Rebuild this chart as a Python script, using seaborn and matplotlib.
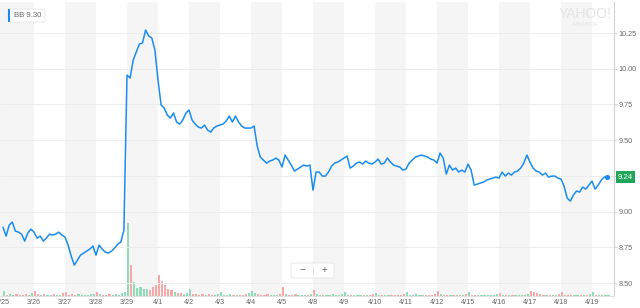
import numpy as np
import pandas as pd
import matplotlib
matplotlib.use("Agg")
import matplotlib.pyplot as plt
import matplotlib.transforms as mtransforms
from matplotlib.patches import FancyBboxPatch, Rectangle
import seaborn as sns

# ---------------- data ----------------
day_labels = ["3/25", "3/26", "3/27", "3/28", "3/29", "4/1", "4/2", "4/3", "4/4", "4/5",
              "4/8", "4/9", "4/10", "4/11", "4/12", "4/15", "4/16", "4/17", "4/18", "4/19"]

p_0325 = [8.892, 8.829, 8.906, 8.927, 8.864, 8.857, 8.843, 8.794, 8.850, 8.878]
p_0326 = [8.857, 8.815, 8.829, 8.794, 8.815, 8.843, 8.836, 8.843, 8.857, 8.836]
p_0327 = [8.822, 8.766, 8.689, 8.626, 8.661, 8.696, 8.710, 8.724, 8.738, 8.759]
p_0328 = [8.696, 8.766, 8.738, 8.717, 8.710, 8.724, 8.745, 8.773, 8.787, 8.870]
p_0329 = [9.956, 9.935, 10.061, 10.117, 10.173, 10.180, 10.271, 10.229, 10.215, 10.131]
p_0401 = [9.921, 9.746, 9.725, 9.676, 9.655, 9.690, 9.627, 9.613, 9.641, 9.690]
p_0402 = [9.711, 9.641, 9.613, 9.592, 9.585, 9.606, 9.571, 9.557, 9.585, 9.599]
p_0403 = [9.606, 9.613, 9.634, 9.669, 9.627, 9.669, 9.627, 9.599, 9.585, 9.585]
p_0404 = [9.585, 9.599, 9.459, 9.382, 9.361, 9.340, 9.354, 9.361, 9.375, 9.361]
p_0405 = [9.312, 9.396, 9.361, 9.326, 9.284, 9.298, 9.312, 9.326, 9.319, 9.326]
p_0408 = [9.151, 9.277, 9.277, 9.249, 9.249, 9.277, 9.319, 9.340, 9.347, 9.361]
p_0409 = [9.375, 9.389, 9.305, 9.319, 9.340, 9.347, 9.333, 9.354, 9.340, 9.333]
p_0410 = [9.347, 9.368, 9.333, 9.340, 9.375, 9.347, 9.326, 9.319, 9.312, 9.291]
p_0411 = [9.298, 9.340, 9.361, 9.382, 9.389, 9.396, 9.389, 9.382, 9.368, 9.361]
p_0412 = [9.340, 9.410, 9.375, 9.263, 9.326, 9.291, 9.305, 9.277, 9.291, 9.277]
p_0415 = [9.333, 9.291, 9.186, 9.193, 9.200, 9.207, 9.221, 9.228, 9.235, 9.242]
p_0416 = [9.235, 9.277, 9.249, 9.270, 9.256, 9.277, 9.284, 9.305, 9.340, 9.396]
p_0417 = [9.347, 9.305, 9.284, 9.277, 9.256, 9.270, 9.242, 9.249, 9.249, 9.235]
p_0418 = [9.228, 9.179, 9.095, 9.074, 9.116, 9.144, 9.137, 9.172, 9.158, 9.186]
p_0419 = [9.214, 9.158, 9.186, 9.221, 9.242, 9.242]

# volume (millions of shares) per interval
v_0325 = [1.3, 0.4, 0.6, 0.3, 0.5, 0.3, 0.4, 0.6, 0.3, 0.8]
v_0326 = [1.4, 0.5, 0.3, 0.6, 0.4, 0.3, 0.5, 0.4, 0.3, 0.7]
v_0327 = [1.2, 0.4, 0.5, 0.3, 0.6, 0.4, 0.3, 0.4, 0.5, 0.6]
v_0328 = [1.2, 0.6, 0.3, 0.4, 0.5, 0.3, 0.6, 0.4, 0.7, 1.0]
v_0329 = [20.0, 8.5, 3.8, 2.2, 2.4, 1.8, 2.0, 1.5, 2.5, 3.0]
v_0401 = [5.8, 4.2, 3.0, 2.0, 1.5, 1.0, 0.8, 0.7, 0.6, 0.9]
v_0402 = [1.9, 0.6, 0.5, 0.4, 0.6, 0.3, 0.5, 0.4, 0.3, 0.6]
v_0403 = [1.2, 0.4, 0.3, 0.5, 0.4, 0.3, 0.4, 0.3, 0.5, 0.7]
v_0404 = [1.4, 0.8, 0.5, 0.4, 0.3, 0.5, 0.4, 0.3, 0.4, 0.6]
v_0405 = [2.5, 0.6, 0.4, 0.3, 0.5, 0.3, 0.4, 0.3, 0.4, 0.6]
v_0408 = [1.7, 0.5, 0.4, 0.3, 0.4, 0.3, 0.5, 0.3, 0.4, 0.6]
v_0409 = [1.2, 0.4, 0.3, 0.3, 0.4, 0.3, 0.3, 0.4, 0.3, 0.5]
v_0410 = [0.9, 0.3, 0.4, 0.3, 0.3, 0.4, 0.3, 0.3, 0.4, 0.5]
v_0411 = [1.2, 0.4, 0.3, 0.5, 0.3, 0.3, 0.4, 0.3, 0.3, 0.6]
v_0412 = [1.4, 0.6, 0.4, 0.3, 0.4, 0.3, 0.3, 0.4, 0.3, 0.5]
v_0415 = [1.2, 0.4, 0.3, 0.3, 0.4, 0.3, 0.3, 0.3, 0.4, 0.5]
v_0416 = [0.9, 0.3, 0.3, 0.4, 0.3, 0.3, 0.3, 0.4, 0.3, 0.5]
v_0417 = [1.4, 1.0, 0.7, 0.5, 0.4, 0.3, 0.3, 0.4, 0.3, 0.6]
v_0418 = [1.0, 0.4, 0.3, 0.3, 0.4, 0.3, 0.3, 0.3, 0.4, 0.6]
v_0419 = [1.0, 0.4, 0.3, 0.3, 0.3, 0.4]

ticker_label = "BB 9.30"
price_ticks = [8.50, 8.75, 9.00, 9.25, 9.50, 9.75, 10.00, 10.25]

prices_by_day = [p_0325, p_0326, p_0327, p_0328, p_0329, p_0401, p_0402, p_0403, p_0404,
                 p_0405, p_0408, p_0409, p_0410, p_0411, p_0412, p_0415, p_0416, p_0417,
                 p_0418, p_0419]
vols_by_day = [v_0325, v_0326, v_0327, v_0328, v_0329, v_0401, v_0402, v_0403, v_0404,
               v_0405, v_0408, v_0409, v_0410, v_0411, v_0412, v_0415, v_0416, v_0417,
               v_0418, v_0419]

rows = []
for k, (pp, vv) in enumerate(zip(prices_by_day, vols_by_day)):
    for i, (p, v) in enumerate(zip(pp, vv)):
        rows.append({"t": k + i / 10.0, "price": p, "vol": v})
df = pd.DataFrame(rows)
df["up"] = df["price"].diff().fillna(0) >= 0

# ---------------- style ----------------
sns.set_style("white")
plt.rcParams["font.family"] = ["Liberation Sans", "DejaVu Sans"]

BLUE = "#1a8cf0"
GREY_TXT = "#666666"

fig = plt.figure(figsize=(6.4, 3.08), dpi=100)
rect = [0.0, 12 / 308, 614 / 640, 294 / 308]
ax_v = fig.add_axes(rect)
ax = fig.add_axes(rect, sharex=ax_v)
ax.patch.set_visible(False)

x_lo, x_hi = -0.097, 19.71
ax_v.set_xlim(x_lo, x_hi)

# alternating day bands
for k in range(len(day_labels)):
    if k % 2 == 0:
        left = k if k > 0 else x_lo - 1
        ax_v.axvspan(left, k + 1, color="#f5f5f5", lw=0, zorder=0)

# volume bars
bar_colors = np.where(df["up"], "#8fdcb8", "#f7a9a9")
ax_v.bar(df["t"], df["vol"], width=0.07, color=bar_colors, align="edge", lw=0, zorder=1)
ax_v.set_ylim(0, 80)
ax_v.set_yticks([])
for s in ax_v.spines.values():
    s.set_visible(False)
ax_v.tick_params(axis="x", length=0, labelbottom=False)

# price line
sns.lineplot(data=df, x="t", y="price", ax=ax, color=BLUE, linewidth=1.1,
             sort=False, estimator=None, zorder=3)
last_t = df["t"].iloc[-1]
last_p = df["price"].iloc[-1]
ax.scatter([last_t], [last_p], s=14, color=BLUE, zorder=4, lw=0)

ax.set_ylim(8.41, 10.467)
ax.set_xlim(x_lo, x_hi)
ax.set_yticks(price_ticks)
ax.set_yticklabels([f"{v:.2f}" for v in price_ticks])
ax.yaxis.tick_right()
ax.tick_params(axis="y", length=2, width=0.6, color="#cccccc", pad=1.5,
               labelsize=5.2, labelcolor=GREY_TXT)
ax.set_xticks(range(len(day_labels)))
ax.set_xticklabels(day_labels)
ax.tick_params(axis="x", length=0, pad=2.5, labelsize=5.2, labelcolor=GREY_TXT)
ax.grid(axis="y", color="#ececec", lw=0.7, zorder=1)
ax.grid(axis="x", visible=False)
ax.set_xlabel("")
ax.set_ylabel("")
ax.spines["top"].set_visible(False)
ax.spines["left"].set_visible(False)
ax.spines["right"].set_color("#d0d0d0")
ax.spines["right"].set_linewidth(0.8)
ax.spines["bottom"].set_color("#e0e0e0")
ax.spines["bottom"].set_linewidth(0.7)

# last-price flag
trans = mtransforms.blended_transform_factory(ax.transAxes, ax.transData)
ax.text(1.006, last_p, f"{last_p:.2f}", transform=trans, ha="left", va="center",
        color="white", fontsize=5.6, zorder=6, clip_on=False,
        bbox=dict(boxstyle="square,pad=0.28", fc="#20a55a", ec="none"))

# ticker badge top-left
fig.patches.append(FancyBboxPatch((8 / 640, 286 / 308), 37 / 640, 13 / 308,
                                  boxstyle="round,pad=0.0,rounding_size=0.004",
                                  transform=fig.transFigure, fc="white",
                                  ec="#e6e6e6", lw=0.6, zorder=10))
fig.patches.append(Rectangle((8 / 640, 286 / 308), 2.2 / 640, 13 / 308,
                             transform=fig.transFigure, fc=BLUE, ec="none", zorder=11))
fig.text(14 / 640, 292.5 / 308, ticker_label, ha="left", va="center",
         fontsize=5.6, color=GREY_TXT, zorder=12)

# watermark
fig.text(585 / 640, 294 / 308, "YAHOO!", ha="center", va="center", fontsize=10,
         color="#e4e4e4", zorder=12)
fig.text(585 / 640, 283.5 / 308, "FINANCE", ha="center", va="center", fontsize=4.2,
         color="#e4e4e4", zorder=12)

# zoom buttons
fig.patches.append(FancyBboxPatch((291 / 640, 30 / 308), 43 / 640, 15 / 308,
                                  boxstyle="round,pad=0.0,rounding_size=0.004",
                                  transform=fig.transFigure, fc="white",
                                  ec="#e3e3e3", lw=0.6, zorder=10))
fig.lines.append(plt.Line2D([313 / 640, 313 / 640], [33 / 308, 42 / 308],
                            transform=fig.transFigure, color="#dddddd", lw=0.6, zorder=11))
fig.text(302 / 640, 37.5 / 308, "\u2212", ha="center", va="center", fontsize=7,
         color=GREY_TXT, zorder=12)
fig.text(324 / 640, 37.5 / 308, "+", ha="center", va="center", fontsize=7,
         color=GREY_TXT, zorder=12)

fig.savefig("out.png", dpi=100)
